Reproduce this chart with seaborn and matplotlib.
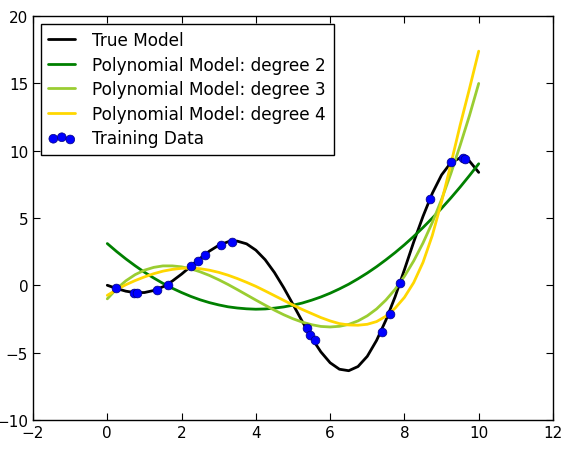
import numpy as np
import pandas as pd
import matplotlib
matplotlib.use("Agg")
import matplotlib.pyplot as plt
import seaborn as sns

# ========== data ==========
# x positions where the curves were read (every 0.25)
x_curve = [0, 0.25, 0.5, 0.75, 1.0, 1.25, 1.5, 1.75, 2.0, 2.25, 2.5, 2.75, 3.0, 3.25,
           3.5, 3.75, 4.0, 4.25, 4.5, 4.75, 5.0, 5.25, 5.5, 5.75, 6.0, 6.25, 6.5, 6.75,
           7.0, 7.25, 7.5, 7.75, 8.0, 8.25, 8.5, 8.75, 9.0, 9.25, 9.5, 9.75, 10.0]

y_true = [0.0, -0.24, -0.44, -0.55, -0.54, -0.39, -0.11, 0.31, 0.83, 1.41, 2.0, 2.54,
          2.97, 3.23, 3.28, 3.08, 2.61, 1.9, 0.95, -0.18, -1.42, -2.69, -3.9, -4.95,
          -5.76, -6.24, -6.35, -6.04, -5.28, -4.1, -2.6, -0.85, 1.16, 3.22, 5.12, 6.83,
          8.2, 9.11, 9.47, 9.23, 8.39]

y_deg2 = [3.1, 2.51, 1.96, 1.45, 0.97, 0.54, 0.14, -0.22, -0.54, -0.83, -1.08, -1.29,
          -1.46, -1.6, -1.69, -1.75, -1.78, -1.76, -1.7, -1.61, -1.48, -1.32, -1.11,
          -0.87, -0.59, -0.27, 0.08, 0.48, 0.91, 1.38, 1.89, 2.43, 3.01, 3.63, 4.29,
          4.99, 5.72, 6.49, 7.3, 8.15, 9.03]

y_deg3 = [-1.01, -0.27, 0.33, 0.79, 1.12, 1.33, 1.44, 1.44, 1.37, 1.22, 1.0, 0.73,
          0.41, 0.06, -0.32, -0.71, -1.1, -1.48, -1.85, -2.19, -2.49, -2.74, -2.93,
          -3.06, -3.1, -3.05, -2.91, -2.65, -2.27, -1.76, -1.1, -0.3, 0.67, 1.81, 3.14,
          4.66, 6.38, 8.3, 10.4, 12.6, 15.0]

y_deg4 = [-0.75, -0.33, 0.04, 0.35, 0.62, 0.86, 1.05, 1.18, 1.26, 1.28, 1.23, 1.12,
          0.96, 0.75, 0.5, 0.22, -0.08, -0.42, -0.77, -1.12, -1.47, -1.8, -2.1, -2.4,
          -2.65, -2.85, -2.95, -2.97, -2.9, -2.7, -2.3, -1.7, -0.9, 0.2, 1.7, 3.7,
          6.2, 9.0, 11.9, 14.6, 17.4]

x_train = [0.23, 0.73, 0.81, 1.34, 1.63, 2.25, 2.44, 2.64, 3.06, 3.35, 5.37, 5.47,
           5.58, 7.39, 7.61, 7.88, 8.69, 9.26, 9.57, 9.62]
y_train = [-0.2, -0.54, -0.59, -0.35, 0.05, 1.43, 1.78, 2.27, 2.96, 3.21, -3.21,
           -3.7, -4.1, -3.46, -2.1, 0.15, 6.42, 9.16, 9.46, 9.4]

labels = ["True Model", "Polynomial Model: degree 2",
          "Polynomial Model: degree 3", "Polynomial Model: degree 4"]
colors = ["black", "green", "yellowgreen", "gold"]

# ========== style ==========
sns.set_style("ticks")
plt.rcParams["font.family"] = ["DejaVu Sans"]
plt.rcParams["xtick.direction"] = "in"
plt.rcParams["ytick.direction"] = "in"
plt.rcParams["text.color"] = "black"
plt.rcParams["axes.labelcolor"] = "black"

fig = plt.figure(figsize=(5.64, 4.52), dpi=100)
ax = fig.add_axes([0.0585, 0.069, 0.922, 0.893])

for ys, lab, col in zip([y_true, y_deg2, y_deg3, y_deg4], labels, colors):
    sns.lineplot(x=x_curve, y=ys, color=col, linewidth=2, label=lab, ax=ax,
                 estimator=None, sort=False)

sns.scatterplot(x=x_train, y=y_train, color="blue", s=40, edgecolor="#000080",
                linewidth=0.5, label="Training Data", ax=ax, zorder=3)

ax.set_xlim(-2, 12)
ax.set_ylim(-10, 20)
ax.set_xticks(range(-2, 13, 2))
ax.set_yticks(range(-10, 21, 5))
ax.tick_params(top=True, right=True, labelsize=11, length=5, width=0.8,
               colors="black")
for sp in ax.spines.values():
    sp.set_color("black")
    sp.set_linewidth(1)

leg = ax.legend(loc="upper left", fontsize=12.2, frameon=True, fancybox=False,
                framealpha=1, edgecolor="black", scatterpoints=3,
                handlelength=1.6, handletextpad=1.0, labelspacing=0.38,
                borderpad=0.45, borderaxespad=0.45)
leg.get_frame().set_linewidth(1)
for t in leg.get_texts():
    t.set_color("black")

plt.savefig("out.png", dpi=100)
